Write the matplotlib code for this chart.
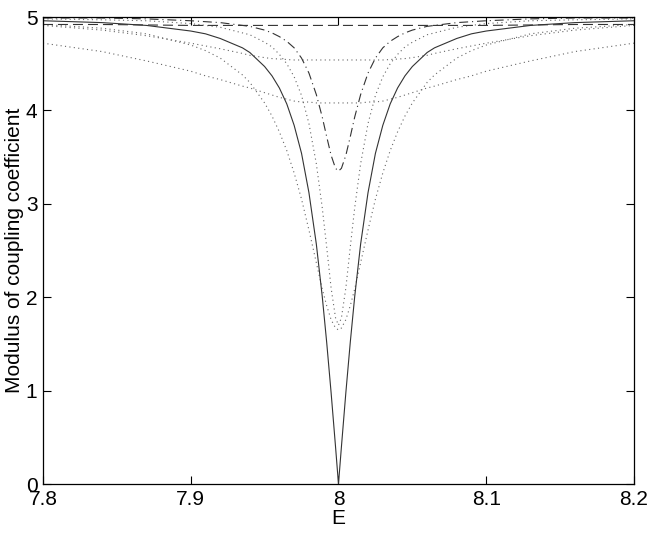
import matplotlib
matplotlib.use("Agg")
import matplotlib.pyplot as plt

plt.rcParams['font.family'] = ['Liberation Sans', 'DejaVu Sans']

# energy grid (denser near the resonance at E = 8)
E = [7.8, 7.84, 7.87, 7.9, 7.91, 7.92, 7.935, 7.94, 7.95, 7.955, 7.96, 7.965,
     7.97, 7.975, 7.98, 7.985, 7.989, 7.992, 7.995, 7.998, 8.0,
     8.002, 8.005, 8.008, 8.011, 8.015, 8.02, 8.025, 8.03, 8.035, 8.04,
     8.045, 8.05, 8.06, 8.065, 8.08, 8.09, 8.1, 8.13, 8.16, 8.2]

# solid curve, dips to zero
solid = [4.96, 4.94, 4.91, 4.85, 4.82, 4.77, 4.67, 4.62, 4.47, 4.37, 4.24, 4.07,
         3.84, 3.54, 3.12, 2.57, 2.01, 1.52, 0.98, 0.40, 0.0,
         0.40, 0.98, 1.52, 2.01, 2.57, 3.12, 3.54, 3.84, 4.07, 4.24,
         4.37, 4.47, 4.62, 4.67, 4.77, 4.82, 4.85, 4.91, 4.94, 4.96]

# dash-dot curve
dashdot = [4.99, 4.99, 4.98, 4.96, 4.95, 4.94, 4.91, 4.90, 4.86, 4.83, 4.79, 4.74,
           4.67, 4.56, 4.40, 4.17, 3.93, 3.72, 3.52, 3.38, 3.35,
           3.38, 3.52, 3.72, 3.93, 4.17, 4.40, 4.56, 4.67, 4.74, 4.79,
           4.83, 4.86, 4.90, 4.91, 4.94, 4.95, 4.96, 4.98, 4.99, 4.99]

# dashed curve, almost flat
dashed = [4.92, 4.92, 4.915, 4.91, 4.91, 4.91, 4.91, 4.91, 4.91, 4.91, 4.91, 4.91,
          4.91, 4.91, 4.91, 4.91, 4.91, 4.91, 4.91, 4.91, 4.91,
          4.91, 4.91, 4.91, 4.91, 4.91, 4.91, 4.91, 4.91, 4.91, 4.91,
          4.91, 4.91, 4.91, 4.91, 4.91, 4.91, 4.91, 4.915, 4.92, 4.92]

# dotted curves
dot_narrow = [4.98, 4.97, 4.96, 4.93, 4.91, 4.89, 4.83, 4.81, 4.73, 4.68, 4.60, 4.50,
              4.36, 4.16, 3.86, 3.43, 2.96, 2.54, 2.10, 1.78, 1.70,
              1.78, 2.10, 2.54, 2.96, 3.43, 3.86, 4.16, 4.36, 4.50, 4.60,
              4.68, 4.73, 4.81, 4.83, 4.89, 4.91, 4.93, 4.96, 4.97, 4.98]

dot_wide = [4.92, 4.88, 4.82, 4.70, 4.64, 4.56, 4.38, 4.30, 4.08, 3.94, 3.77, 3.57,
            3.33, 3.05, 2.72, 2.37, 2.09, 1.91, 1.76, 1.67, 1.65,
            1.67, 1.76, 1.91, 2.09, 2.37, 2.72, 3.05, 3.33, 3.57, 3.77,
            3.94, 4.08, 4.30, 4.38, 4.56, 4.64, 4.70, 4.82, 4.88, 4.92]

dot_low = [4.72, 4.63, 4.53, 4.42, 4.37, 4.33, 4.26, 4.24, 4.19, 4.165, 4.14, 4.12,
           4.10, 4.09, 4.09, 4.08, 4.08, 4.08, 4.08, 4.08, 4.08,
           4.08, 4.08, 4.08, 4.08, 4.08, 4.09, 4.09, 4.10, 4.12, 4.14,
           4.165, 4.19, 4.24, 4.26, 4.33, 4.37, 4.42, 4.53, 4.63, 4.72]

dot_flat = [4.91, 4.86, 4.80, 4.72, 4.69, 4.66, 4.61, 4.59, 4.565, 4.555, 4.55, 4.545,
            4.54, 4.54, 4.54, 4.54, 4.54, 4.54, 4.54, 4.54, 4.54,
            4.54, 4.54, 4.54, 4.54, 4.54, 4.54, 4.54, 4.54, 4.545, 4.55,
            4.555, 4.565, 4.59, 4.61, 4.66, 4.69, 4.72, 4.80, 4.86, 4.91]

fig = plt.figure(figsize=(6.54, 5.35), dpi=100)
ax = fig.add_axes([0.0657, 0.0953, 0.9037, 0.8729])

lw = 0.8
dotstyle = (0, (1, 3))
for ys in [dot_narrow, dot_wide, dot_low, dot_flat]:
    ax.plot(E, ys, color='0.4', lw=lw, linestyle=dotstyle)
ax.plot(E, dashed, color='0.2', lw=lw, linestyle=(0, (9, 4.5)))
ax.plot(E, dashdot, color='0.2', lw=lw, linestyle=(0, (8, 3.5, 1, 3.5)))
ax.plot(E, solid, color='0.2', lw=lw)

ax.set_xlim(7.8, 8.2)
ax.set_ylim(0, 5)
ax.set_xticks([7.8, 7.9, 8.0, 8.1, 8.2])
ax.set_xticklabels(['7.8', '7.9', '8', '8.1', '8.2'])
ax.set_yticks([0, 1, 2, 3, 4, 5])
ax.tick_params(direction='in', top=True, right=True, length=6, width=0.8,
               labelsize=15, pad=4)
for s in ax.spines.values():
    s.set_linewidth(0.9)

ax.set_xlabel('E', fontsize=15, labelpad=0)
ax.set_ylabel('Modulus of coupling coefficient', fontsize=15, labelpad=1)

fig.savefig('out.png', dpi=100)
